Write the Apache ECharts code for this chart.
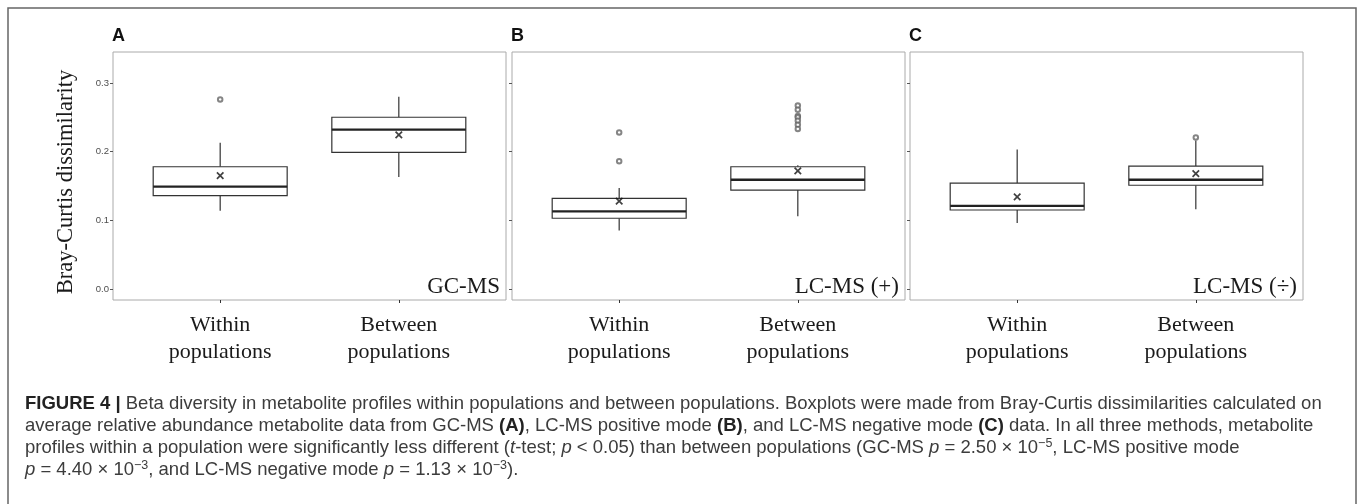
<!DOCTYPE html>
<html>
<head>
<meta charset="utf-8">
<script src="https://cdn.jsdelivr.net/npm/echarts@6/dist/echarts.min.js"></script>
<style>
  html, body { margin: 0; padding: 0; background: #fff; }
  #main { width: 1357px; height: 504px; }
</style>
</head>
<body>
<div id="main"></div>
<script>
// group labels on the x axis (positions 1 and 2)
const groups = ['Within\npopulations', 'Between\npopulations'];
const yTicks = [0, 0.1, 0.2, 0.3];

// boxes: [low whisker, Q1, median, Q3, high whisker]
const gcmsBoxes = [[0.114, 0.136, 0.149, 0.178, 0.213], [0.163, 0.199, 0.232, 0.250, 0.280]];
const gcmsMeans = [0.165, 0.2245];
const gcmsOutliers = [[1, 0.276]];

const lcPosBoxes = [[0.085, 0.103, 0.113, 0.132, 0.147], [0.106, 0.144, 0.159, 0.178, 0.180]];
const lcPosMeans = [0.128, 0.172];
const lcPosOutliers = [[1, 0.228], [1, 0.186], [2, 0.267], [2, 0.261], [2, 0.252], [2, 0.250], [2, 0.245], [2, 0.239], [2, 0.233]];

const lcNegBoxes = [[0.096, 0.115, 0.121, 0.154, 0.203], [0.116, 0.151, 0.159, 0.179, 0.216]];
const lcNegMeans = [0.134, 0.168];
const lcNegOutliers = [[2, 0.2206]];

const panelNames = ['A', 'B', 'C'];
const methodNames = ['GC-MS', 'LC-MS (+)', 'LC-MS (÷)'];
const yTitle = 'Bray-Curtis dissimilarity';

const captionLines = [
  '{b|FIGURE 4 |} Beta diversity in metabolite profiles within populations and between populations. Boxplots were made from Bray-Curtis dissimilarities calculated on',
  'average relative abundance metabolite data from GC-MS {b|(A)}, LC-MS positive mode {b|(B)}, and LC-MS negative mode {b|(C)} data. In all three methods, metabolite',
  'profiles within a population were significantly less different ({i|t}-test; {i|p} < 0.05) than between populations (GC-MS {i|p} = 2.50 × 10{sup|−5}, LC-MS positive mode',
  '{i|p} = 4.40 × 10{sup|−3}, and LC-MS negative mode {i|p} = 1.13 × 10{sup|−3}).'
];

const panels = [
  { boxes: gcmsBoxes, means: gcmsMeans, outliers: gcmsOutliers },
  { boxes: lcPosBoxes, means: lcPosMeans, outliers: lcPosOutliers },
  { boxes: lcNegBoxes, means: lcNegMeans, outliers: lcNegOutliers }
];

// layout
const gridLefts = [113, 512, 910];
const gridWidth = 393;
const gridTop = 52;
const gridHeight = 248;
const serif = '"Liberation Serif", "DejaVu Serif", serif';
const sans = '"Liberation Sans", Arial, sans-serif';
const capSize = 18.5;
const capLine = 22;

const chart = echarts.init(document.getElementById('main'));

function renderBox(params, api) {
  const x = api.value(0);
  const lo = api.coord([x, api.value(1)]);
  const q1 = api.coord([x, api.value(2)]);
  const med = api.coord([x, api.value(3)]);
  const q3 = api.coord([x, api.value(4)]);
  const hi = api.coord([x, api.value(5)]);
  const half = api.size([0.75, 0])[0] / 2;
  const stroke = '#333';
  return {
    type: 'group',
    children: [
      { type: 'line', shape: { x1: lo[0], y1: lo[1], x2: q1[0], y2: q1[1] }, style: { stroke, lineWidth: 1.2 } },
      { type: 'line', shape: { x1: q3[0], y1: q3[1], x2: hi[0], y2: hi[1] }, style: { stroke, lineWidth: 1.2 } },
      { type: 'rect', shape: { x: q3[0] - half, y: q3[1], width: half * 2, height: q1[1] - q3[1] },
        style: { fill: '#fff', stroke, lineWidth: 1.2 } },
      { type: 'line', shape: { x1: med[0] - half, y1: med[1], x2: med[0] + half, y2: med[1] },
        style: { stroke: '#222', lineWidth: 2.4 } }
    ]
  };
}

const grid = [];
const xAxis = [];
const yAxis = [];
const series = [];
const graphic = [];

panels.forEach((p, i) => {
  grid.push({
    left: gridLefts[i], top: gridTop, width: gridWidth, height: gridHeight,
    show: true, borderColor: '#aaaaaa', borderWidth: 1, backgroundColor: '#fff'
  });
  xAxis.push({
    type: 'value', gridIndex: i, min: 0.4, max: 2.6,
    axisLine: { show: false, onZero: false },
    splitLine: { show: false },
    axisTick: { show: true, length: 3, customValues: [1, 2], lineStyle: { color: '#333' } },
    axisLabel: {
      customValues: [1, 2],
      formatter: (v) => groups[Math.round(v) - 1],
      fontFamily: serif, fontSize: 22, lineHeight: 26.5, color: '#1a1a1a', margin: 12
    }
  });
  yAxis.push({
    type: 'value', gridIndex: i, min: -0.016, max: 0.345,
    axisLine: { show: false, onZero: false },
    splitLine: { show: false },
    axisTick: { show: true, length: 3, customValues: yTicks, lineStyle: { color: '#555' } },
    axisLabel: {
      show: i === 0,
      customValues: yTicks,
      formatter: (v) => v.toFixed(1),
      fontFamily: sans, fontSize: 9.5, color: '#4d4d4d', margin: 4
    }
  });
  series.push({
    type: 'custom', xAxisIndex: i, yAxisIndex: i,
    renderItem: renderBox,
    encode: { x: 0, y: [1, 2, 3, 4, 5] },
    data: p.boxes.map((b, k) => [k + 1].concat(b)),
    z: 2
  });
  series.push({
    type: 'scatter', xAxisIndex: i, yAxisIndex: i,
    symbol: 'emptyCircle', symbolSize: 4.5,
    itemStyle: { color: '#666', borderWidth: 1 },
    data: p.outliers,
    z: 3
  });
  series.push({
    type: 'scatter', xAxisIndex: i, yAxisIndex: i,
    symbol: 'path://M0,0L10,10M10,0L0,10', symbolSize: 6.5,
    itemStyle: { color: 'none', borderColor: '#111', borderWidth: 1.7 },
    data: p.means.map((m, k) => [k + 1, m]),
    z: 4
  });
  graphic.push({
    type: 'text', left: gridLefts[i] - 1, top: 27,
    style: { text: panelNames[i], fontFamily: sans, fontWeight: 'bold', fontSize: 18, fill: '#111' }
  });
  graphic.push({
    type: 'text', x: gridLefts[i] + gridWidth - 6, y: gridTop + gridHeight - 2,
    style: { text: methodNames[i], fontFamily: serif, fontSize: 23, fill: '#1a1a1a',
      align: 'right', verticalAlign: 'bottom' }
  });
});

// shared y axis title
graphic.push({
  type: 'text', x: 66, y: 182, rotation: Math.PI / 2,
  style: { text: yTitle, fontFamily: serif, fontSize: 22.5, fill: '#1a1a1a',
    align: 'center', verticalAlign: 'middle' }
});

// outer frame of the figure
graphic.push({
  type: 'polyline',
  shape: { points: [[8, 504], [8, 8], [1356, 8], [1356, 504]] },
  style: { stroke: '#666', lineWidth: 1.5, fill: null },
  silent: true
});

graphic.push({
  type: 'text', x: 25, y: 393,
  style: {
    text: captionLines.join('\n'),
    fontFamily: sans, fontSize: capSize, lineHeight: capLine, fill: '#3c3c3c',
    rich: {
      b: { fontFamily: sans, fontSize: capSize, fontWeight: 'bold', fill: '#222', lineHeight: capLine },
      i: { fontFamily: sans, fontSize: capSize, fontStyle: 'italic', fill: '#3c3c3c', lineHeight: capLine },
      sup: { fontFamily: sans, fontSize: 12.5, fill: '#3c3c3c', verticalAlign: 'top', lineHeight: capLine }
    }
  }
});

chart.setOption({
  animation: false,
  backgroundColor: '#fff',
  grid, xAxis, yAxis, series, graphic
});
</script>
</body>
</html>
